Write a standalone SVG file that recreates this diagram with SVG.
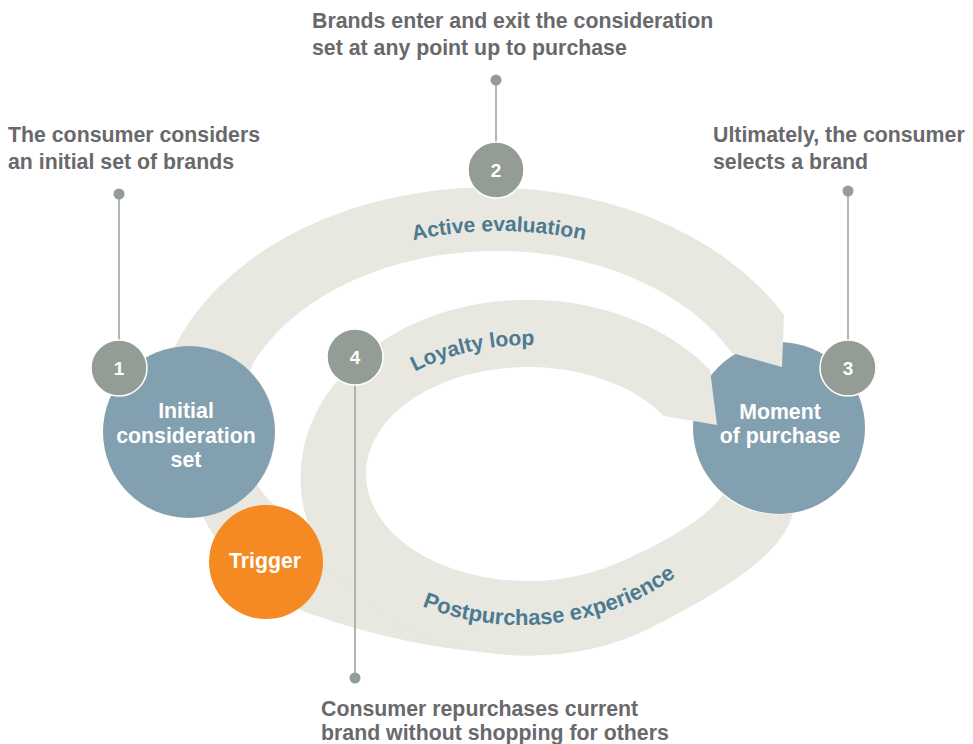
<svg xmlns="http://www.w3.org/2000/svg" width="973" height="744" viewBox="0 0 973 744">
<defs>
<style>
.band{fill:#E8E7E0}
.stage{fill:#82A0B0}
.trig{fill:#F48A21}
.num{fill:#939C95;stroke:#ffffff;stroke-width:1.5}
.lead{stroke:#A0A5A1;stroke-width:1.6;fill:none}
.dot{fill:#939C95}
.cap{font-family:"Liberation Sans",Arial,sans-serif;font-weight:bold;font-size:21.3px;fill:#69696B}
.nodet{font-family:"Liberation Sans",Arial,sans-serif;font-weight:bold;font-size:21.3px;fill:#ffffff;text-anchor:middle}
.numt{font-family:"Liberation Sans",Arial,sans-serif;font-weight:bold;font-size:19px;fill:#ffffff;text-anchor:middle}
.bandt{font-family:"Liberation Sans",Arial,sans-serif;font-weight:bold;font-size:21px;fill:#4C7A91;text-anchor:middle}
</style>
<path id="p-active" d="M 209,435 A 290 204 0 0 1 789,435"/>
<path id="p-loyal" d="M 340,475 A 190 130 0 0 1 720,475"/>
<path id="p-post" d="M 297,445 A 225 180 0 0 0 747,445"/>
</defs>
<rect width="973" height="744" fill="#ffffff"/>

<g id="node-moment">
<circle class="stage" cx="779" cy="428" r="86"/>
<text class="nodet" x="780" y="419">Moment</text>
<text class="nodet" x="780" y="443">of purchase</text>
</g>

<g id="bands">
<path id="band-active" class="band" d="M 520,654 C 440,653 360,632 300,610 C 262,592 225,560 203,517 C 180,470 145,410 173,350 A 335 243 0 0 1 784,315 L 782,367 L 732,353 A 265 187 0 0 0 257,357 C 239,382 235,455 262,492 C 275,508 300,525 322,548 L 360,575 L 420,620 L 480,640 Z"/>
<path id="band-loyalty" class="band" d="M 793,513 C 783,555 720,592 660,623 A 228 178 0 1 1 710,370 L 717,425 L 664,416 A 162 107 0 1 0 620,562 C 674,538 705,518 723,495 A 86 86 0 0 0 793,513 Z"/>
<text class="bandt"><textPath href="#p-active" startOffset="50%">Active evaluation</textPath></text>
<text class="bandt"><textPath href="#p-loyal" startOffset="196">Loyalty loop</textPath></text>
<text class="bandt" style="font-size:22px"><textPath href="#p-post" startOffset="350">Postpurchase experience</textPath></text>
</g>

<g id="node-initial">
<circle class="stage" cx="189" cy="432" r="86"/>
<text class="nodet" x="186" y="418">Initial</text>
<text class="nodet" x="186" y="443">consideration</text>
<text class="nodet" x="186" y="467">set</text>
</g>

<g id="node-trigger">
<circle class="trig" cx="266" cy="562" r="57"/>
<text class="nodet" x="265" y="568">Trigger</text>
</g>

<g id="connectors">
<line class="lead" x1="119" y1="194" x2="119" y2="341"/>
<circle class="dot" cx="119" cy="194" r="5.5"/>
<line class="lead" x1="496" y1="80" x2="496" y2="143"/>
<circle class="dot" cx="496" cy="80" r="5.5"/>
<line class="lead" x1="848" y1="191" x2="848" y2="341"/>
<circle class="dot" cx="848" cy="191" r="5.5"/>
<line class="lead" x1="355" y1="384" x2="355" y2="678"/>
<circle class="dot" cx="355" cy="678" r="5.5"/>
</g>

<g id="marker-1">
<circle class="num" cx="119" cy="368" r="28"/>
<text class="numt" x="119" y="375">1</text>
</g>
<g id="marker-2">
<circle class="num" cx="496" cy="170" r="28"/>
<text class="numt" x="496" y="177">2</text>
</g>
<g id="marker-3">
<circle class="num" cx="848" cy="368" r="28"/>
<text class="numt" x="848" y="375">3</text>
</g>
<g id="marker-4">
<circle class="num" cx="355" cy="357" r="28"/>
<text class="numt" x="355" y="364">4</text>
</g>

<g id="captions">
<text class="cap" x="312" y="28">Brands enter and exit the consideration</text>
<text class="cap" x="312" y="55">set at any point up to purchase</text>
<text class="cap" x="8" y="142">The consumer considers</text>
<text class="cap" x="8" y="169">an initial set of brands</text>
<text class="cap" x="713" y="142">Ultimately, the consumer</text>
<text class="cap" x="713" y="169">selects a brand</text>
<text class="cap" x="321" y="716">Consumer repurchases current</text>
<text class="cap" x="321" y="740">brand without shopping for others</text>
</g>
</svg>
